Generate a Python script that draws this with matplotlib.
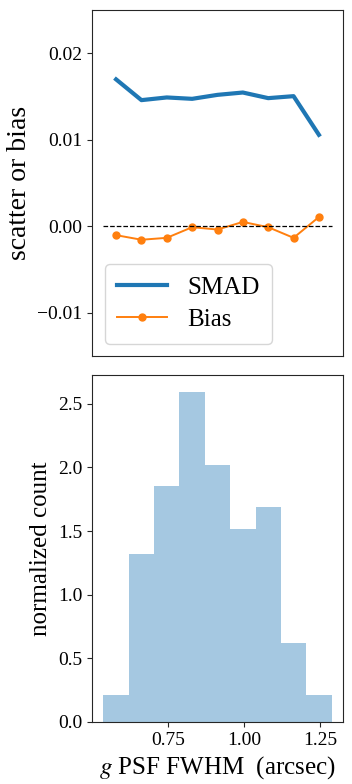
import numpy as np
import matplotlib
matplotlib.use("Agg")
import matplotlib.pyplot as plt

plt.rcParams["font.family"] = ["Liberation Serif", "DejaVu Serif"]
plt.rcParams["mathtext.fontset"] = "stix"

# histogram of g-band PSF FWHM (density), 9 bins
bin_edges = np.linspace(0.538, 1.287, 10)
density = [0.209, 1.319, 1.850, 2.596, 2.015, 1.520, 1.685, 0.618, 0.209]

# per-bin scatter and bias
smad = [0.01698, 0.01458, 0.01489, 0.01473, 0.01519, 0.01546, 0.01481, 0.01504, 0.01057]
bias = [-0.00103, -0.00156, -0.00134, -0.00011, -0.00038, 0.00050, -0.00011, -0.00134, 0.00107]

centers = 0.5 * (bin_edges[1:] + bin_edges[:-1])
spine_c = "#262626"

fig = plt.figure(figsize=(3.52, 7.84), dpi=100)
ax1 = fig.add_axes([92 / 352, 1 - 356 / 784, 251 / 352, 346 / 784])
ax2 = fig.add_axes([92 / 352, 1 - 722 / 784, 251 / 352, 347 / 784], sharex=ax1)

ax1.plot(centers, smad, color="tab:blue", lw=3, label="SMAD")
ax1.plot(centers, bias, color="tab:orange", lw=1.4, marker="o", ms=5, label="Bias")
ax1.hlines(0, bin_edges[0], bin_edges[-1], colors="k", linestyles="--", lw=0.9)
ax1.set_ylim(-0.015, 0.025)
ax1.set_yticks([-0.01, 0.0, 0.01, 0.02])
ax1.set_ylabel("scatter or bias", fontsize=20)
ax1.tick_params(axis="x", bottom=False, labelbottom=False)
ax1.legend(loc="lower left", fontsize=18, handlelength=2.0, borderpad=0.5,
           labelspacing=0.4, handletextpad=0.8)

ax2.hist(centers, bins=bin_edges, weights=density, color="tab:blue", alpha=0.4)
ax2.set_xticks([0.75, 1.0, 1.25])
ax2.set_yticks([0.0, 0.5, 1.0, 1.5, 2.0, 2.5])
ax2.set_ylabel("normalized count", fontsize=18)
ax2.set_xlabel(r"$g$ PSF FWHM  (arcsec)", fontsize=18)

for ax in (ax1, ax2):
    ax.tick_params(labelsize=14, color=spine_c)
    for s in ax.spines.values():
        s.set_color(spine_c)

fig.savefig("out.png", dpi=100)
